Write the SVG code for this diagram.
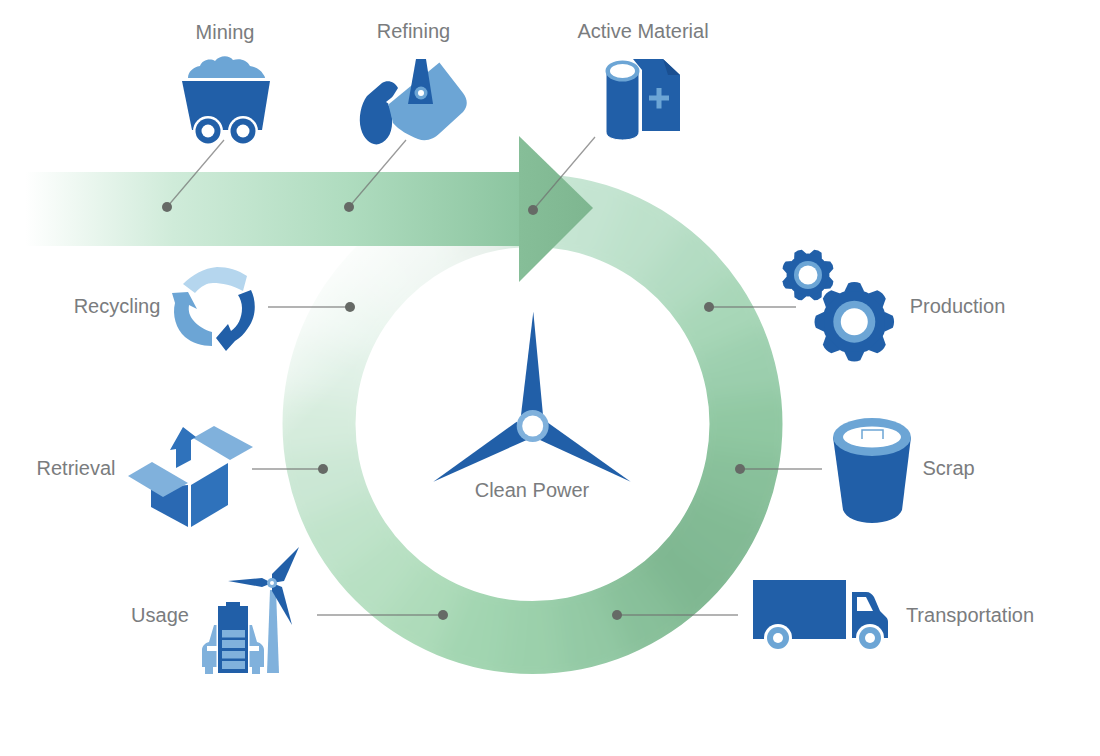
<svg xmlns="http://www.w3.org/2000/svg" width="1100" height="756" viewBox="0 0 1100 756">
<style>
text{font-family:"Liberation Sans",Arial,sans-serif;font-size:20px;fill:#7a7c7e}
.d{fill:#215fa8}.m{fill:#6ca5d5}.l{fill:#b5d6ee}.c{fill:#80b1dc}.w{fill:#fff}
.ln{stroke:#6f6f6f;stroke-opacity:.7;stroke-width:1.300;fill:none}.dot{fill:#666a66}
.s{fill:none;stroke-width:130;stroke-dasharray:16 344}
</style>
<defs>
<clipPath id="rc"><path clip-rule="evenodd" d="M282.500 424a250 250 0 1 0 500 0a250 250 0 1 0-500 0ZM355.500 424a177 177 0 1 0 354 0a177 177 0 1 0-354 0Z"/></clipPath>
<filter id="bl" filterUnits="userSpaceOnUse" x="180" y="70" width="710" height="710"><feGaussianBlur stdDeviation="15"/></filter>
<linearGradient id="fade" gradientUnits="userSpaceOnUse" x1="320" y1="245" x2="400" y2="320"><stop offset="0" stop-color="#fff"/><stop offset="1" stop-color="#fff" stop-opacity="0"/></linearGradient>
<linearGradient id="gb" gradientUnits="userSpaceOnUse" x1="25" y1="0" x2="520" y2="0"><stop offset="0" stop-color="#fff"/><stop offset=".3" stop-color="#cfebd9"/><stop offset=".65" stop-color="#afdcbf"/><stop offset="1" stop-color="#8cc5a0"/></linearGradient>
<linearGradient id="gh" gradientUnits="userSpaceOnUse" x1="519" y1="0" x2="593" y2="0"><stop offset="0" stop-color="#86be98"/><stop offset="1" stop-color="#7eb690"/></linearGradient>
<path id="t" d="M-10 -30L-6 -38.500Q0 -41 6 -38.500L10 -30Z"/>
<g id="gear"><circle r="32"/><use href="#t"/><use href="#t" transform="rotate(45)"/><use href="#t" transform="rotate(90)"/><use href="#t" transform="rotate(135)"/><use href="#t" transform="rotate(180)"/><use href="#t" transform="rotate(225)"/><use href="#t" transform="rotate(270)"/><use href="#t" transform="rotate(315)"/></g>
</defs>
<rect width="1100" height="756" fill="#fff"/>
<g id="ring">
<g clip-path="url(#rc)"><g filter="url(#bl)">
<circle class="s" cx="532.500" cy="424" r="213.500" pathLength="360" stroke="#c9e7d5" transform="rotate(-97.500 532.500 424)"/>
<circle class="s" cx="532.500" cy="424" r="213.500" pathLength="360" stroke="#c4e4d1" transform="rotate(-82.500 532.500 424)"/>
<circle class="s" cx="532.500" cy="424" r="213.500" pathLength="360" stroke="#bde1cb" transform="rotate(-67.500 532.500 424)"/>
<circle class="s" cx="532.500" cy="424" r="213.500" pathLength="360" stroke="#b3dcc2" transform="rotate(-52.500 532.500 424)"/>
<circle class="s" cx="532.500" cy="424" r="213.500" pathLength="360" stroke="#a8d7b8" transform="rotate(-37.500 532.500 424)"/>
<circle class="s" cx="532.500" cy="424" r="213.500" pathLength="360" stroke="#9ccfae" transform="rotate(-22.500 532.500 424)"/>
<circle class="s" cx="532.500" cy="424" r="213.500" pathLength="360" stroke="#90c8a2" transform="rotate(-7.500 532.500 424)"/>
<circle class="s" cx="532.500" cy="424" r="213.500" pathLength="360" stroke="#88c09a" transform="rotate(7.500 532.500 424)"/>
<circle class="s" cx="532.500" cy="424" r="213.500" pathLength="360" stroke="#82ba94" transform="rotate(22.500 532.500 424)"/>
<circle class="s" cx="532.500" cy="424" r="213.500" pathLength="360" stroke="#7fb791" transform="rotate(37.500 532.500 424)"/>
<circle class="s" cx="532.500" cy="424" r="213.500" pathLength="360" stroke="#88c09a" transform="rotate(52.500 532.500 424)"/>
<circle class="s" cx="532.500" cy="424" r="213.500" pathLength="360" stroke="#93c9a4" transform="rotate(67.500 532.500 424)"/>
<circle class="s" cx="532.500" cy="424" r="213.500" pathLength="360" stroke="#9bd0ab" transform="rotate(82.500 532.500 424)"/>
<circle class="s" cx="532.500" cy="424" r="213.500" pathLength="360" stroke="#a2d5b1" transform="rotate(97.500 532.500 424)"/>
<circle class="s" cx="532.500" cy="424" r="213.500" pathLength="360" stroke="#aedbba" transform="rotate(112.500 532.500 424)"/>
<circle class="s" cx="532.500" cy="424" r="213.500" pathLength="360" stroke="#b7e0c2" transform="rotate(127.500 532.500 424)"/>
<circle class="s" cx="532.500" cy="424" r="213.500" pathLength="360" stroke="#c0e3ca" transform="rotate(142.500 532.500 424)"/>
<circle class="s" cx="532.500" cy="424" r="213.500" pathLength="360" stroke="#cbe7d4" transform="rotate(157.500 532.500 424)"/>
<circle class="s" cx="532.500" cy="424" r="213.500" pathLength="360" stroke="#d6ecdd" transform="rotate(172.500 532.500 424)"/>
<circle class="s" cx="532.500" cy="424" r="213.500" pathLength="360" stroke="#e0f1e6" transform="rotate(187.500 532.500 424)"/>
<circle class="s" cx="532.500" cy="424" r="213.500" pathLength="360" stroke="#e9f5ee" transform="rotate(202.500 532.500 424)"/>
<circle class="s" cx="532.500" cy="424" r="213.500" pathLength="360" stroke="#eff7f2" transform="rotate(217.500 532.500 424)"/>
<circle class="s" cx="532.500" cy="424" r="213.500" pathLength="360" stroke="#eff6f2" transform="rotate(232.500 532.500 424)"/>
<circle class="s" cx="532.500" cy="424" r="213.500" pathLength="360" stroke="#e9f1ec" transform="rotate(247.500 532.500 424)"/>
</g></g>
<rect x="280" y="170" width="220" height="310" fill="url(#fade)"/>
</g>
<g id="arrow">
<rect x="25" y="172" width="495" height="74" fill="url(#gb)"/>
<path d="M519 136L593 208L519 282Z" fill="url(#gh)"/>
</g>
<g id="connectors">
<path class="ln" d="M224 140L167 207M406 140L349 207M595 137L533 210M268 307H350M709 307H796M252 469H323M740 469H822M317 615H443M617 615H738"/>
<circle class="dot" cx="167" cy="207" r="5"/><circle class="dot" cx="349" cy="207" r="5"/><circle class="dot" cx="533" cy="210" r="5"/>
<circle class="dot" cx="350" cy="307" r="5"/><circle class="dot" cx="709" cy="307" r="5"/><circle class="dot" cx="323" cy="469" r="5"/>
<circle class="dot" cx="740" cy="469" r="5"/><circle class="dot" cx="443" cy="615" r="5"/><circle class="dot" cx="617" cy="615" r="5"/>
</g>
<g id="mining">
<path class="m" d="M188 78C188 72 193 67 200 66C202 60 210 58 215 61C220 55 229 55 233 60C240 58 247 60 250 66C256 67 261 70 263 74C264 75 265 77 265 78Z"/>
<path class="d" d="M182 81H270L262 130H192Z"/>
<circle class="w" cx="208" cy="131" r="15"/><circle class="d" cx="208" cy="131" r="12.500"/><circle class="w" cx="208" cy="131" r="6.500"/>
<circle class="w" cx="243" cy="131" r="15"/><circle class="d" cx="243" cy="131" r="12.500"/><circle class="w" cx="243" cy="131" r="6.500"/>
<text x="225" y="39" text-anchor="middle">Mining</text>
</g>
<g id="refining">
<path class="d" d="M398 88C395 82 388 79 382 83L367 96C361 104 358 118 361 129C364 140 372 146 379 144C389 141 393 130 392 118C392 112 390 108 388 104Z"/>
<path class="m" d="M388 103L439 62L463 93C468 100 468 106 463 112L440 133C434 139 426 142 418 139C408 135 399 130 393 123Z"/>
<path class="w" d="M386 102L439 60L440 62L389 104Z"/>
<path class="d" d="M416 59H426L433 104H408Z"/>
<circle class="m" cx="421" cy="93" r="6.500"/><circle class="w" cx="421" cy="93" r="3"/>
<text x="413.500" y="38" text-anchor="middle">Refining</text>
</g>
<g id="active-material">
<path class="d" d="M633 59H663L680 75V131H642V70Z"/>
<path fill="#1a4f91" d="M663 59L680 75H668Z"/>
<path class="m" d="M656.500 88H661.500V95.500H669V100.500H661.500V108.500H656.500V100.500H649V95.500H656.500Z"/>
<path class="d" d="M606 71H639V132C639 137 632 140 622.500 140C613 140 606 137 606 132Z" stroke="#fff" stroke-width="1"/>
<ellipse class="m" cx="622.500" cy="71" rx="17" ry="10.500"/><ellipse class="w" cx="622.500" cy="71" rx="12.500" ry="7"/>
<text x="643" y="38" text-anchor="middle">Active Material</text>
</g>
<g id="production">
<use href="#gear" class="d" transform="translate(808 275) rotate(22.500) scale(.67)"/>
<circle class="m" cx="808" cy="275" r="14"/><circle class="w" cx="808" cy="275" r="9.500"/>
<use href="#gear" class="d" transform="translate(854.300 321.700)"/>
<circle class="m" cx="854.300" cy="321.700" r="21"/><circle class="w" cx="854.300" cy="321.700" r="13.500"/>
<text x="957.500" y="313" text-anchor="middle">Production</text>
</g>
<g id="scrap">
<path class="d" d="M833 437H911L902 510C899 518 886 523 872 523C858 523 846 518 843 510Z"/>
<ellipse class="m" cx="872" cy="437" rx="39" ry="19"/><ellipse class="w" cx="872" cy="437" rx="29" ry="10.500"/>
<path d="M862 439V430H883V439" fill="none" stroke="#6ca5d5" stroke-width="1.500"/>
<text x="948.500" y="475" text-anchor="middle">Scrap</text>
</g>
<g id="transportation">
<path class="d" d="M753 580H846V639H753Z"/>
<path class="d" d="M852 592H866C870 592 872 594 874 597L880 611L886 617C888 619 888 621 888 623V638H852Z"/>
<path class="w" d="M857 597H866L873 611H857Z"/>
<circle class="w" cx="778" cy="638" r="14"/><circle class="m" cx="778" cy="638" r="11"/><circle class="w" cx="778" cy="638" r="5"/>
<circle class="w" cx="870" cy="638" r="14"/><circle class="m" cx="870" cy="638" r="11"/><circle class="w" cx="870" cy="638" r="5"/>
<text x="970" y="622" text-anchor="middle">Transportation</text>
</g>
<g id="usage">
<path class="c" d="M270 590H276L279 673H267Z"/>
<path class="d" d="M228 581L262 578L272 583L262 587Z"/>
<path class="d" d="M299 547L284 581L272 583L272 574Z"/>
<path class="d" d="M292 625L272 591L272 583L282 587Z"/>
<circle class="c" cx="272" cy="583" r="5"/><circle class="w" cx="272" cy="583" r="2"/>
<path class="c" d="M202 650C202 646 205 643 209 642L214 625H252L257 642C261 643 264 646 264 650V667H260V674H252V667H213V674H205V667H202Z"/>
<path class="w" d="M207 646H218V651H207ZM248 646H259V651H248Z"/>
<rect class="w" x="216.500" y="605" width="33" height="69"/>
<rect class="d" x="226" y="602" width="14" height="6"/>
<rect class="d" x="218" y="606" width="30" height="67"/>
<rect class="c" x="222" y="630" width="23" height="7.500"/><rect class="c" x="222" y="640" width="23" height="8"/><rect class="c" x="222" y="651" width="23" height="7.500"/><rect class="c" x="222" y="661" width="23" height="8"/>
<text x="160" y="622" text-anchor="middle">Usage</text>
</g>
<g id="retrieval">
<path fill="#2a69b3" d="M151 488L188 485V527L151 507Z"/>
<path fill="#2f72bb" d="M191 485L228 463V505L191 527Z"/>
<path class="c" d="M128 476L152 462L188 483L163 497Z"/>
<path class="c" d="M193 438L214 426L253 447L230 460Z"/>
<path fill="#2f72bb" d="M183 427L196 437L191 440V460L176 468V449L170 450Z"/>
<text x="76" y="475" text-anchor="middle">Retrieval</text>
</g>
<g id="recycling">
<path class="l" d="M183 284C192 275 204 268 217 267C228 267 238 270 247 276L243 291C232 285 222 283 213 283C207 283 201 286 195 293Z"/>
<path class="d" d="M251 290C256 300 257 316 248 328C244 334 240 338 235 341L226 351L216 338L228 324L231 331C238 326 242 318 242 308C242 303 240 298 238 295Z"/>
<path class="m" d="M172 293L188 292L197 309L189 305C188 312 190 316 193 320C198 326 205 330 212 332V346C202 346 192 343 185 337C176 329 172 315 175 303Z"/>
<text x="117" y="313" text-anchor="middle">Recycling</text>
</g>
<g id="clean-power">
<path class="d" d="M533.300 311.700L543 415H521Z"/>
<path class="d" d="M433.300 481.700L516.700 421.700L526.700 440Z"/>
<path class="d" d="M630.700 481.700L548 422.700L540 440Z"/>
<circle class="c" cx="532.700" cy="426" r="16"/><circle class="w" cx="532.700" cy="426" r="10.500"/>
<text x="532" y="497" text-anchor="middle">Clean Power</text>
</g>
</svg>
